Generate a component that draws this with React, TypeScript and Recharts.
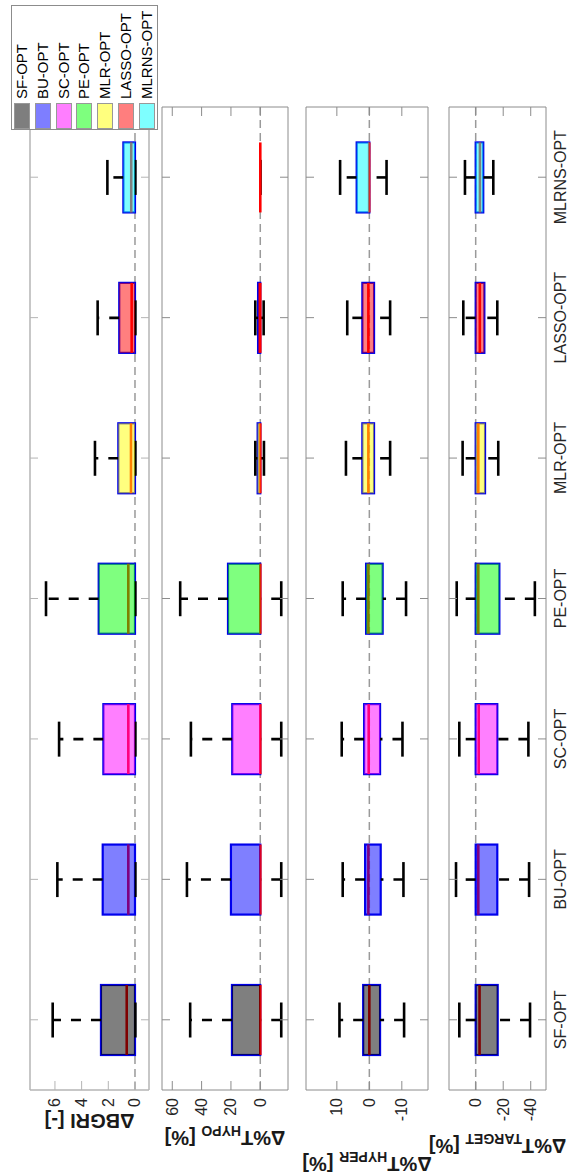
import React from 'react';
import { ComposedChart, Bar, XAxis, YAxis, ReferenceLine, Label } from 'recharts';

const categories = ['SF-OPT', 'BU-OPT', 'SC-OPT', 'PE-OPT', 'MLR-OPT', 'LASSO-OPT', 'MLRNS-OPT'];
const boxFills = ['#000000', '#0000ff', '#ff00ff', '#00ff00', '#ffff00', '#ff0000', '#00ffff'];

// ΔBGRI [-]
const bgriLow = [-0.03, -0.03, -0.03, -0.03, -0.03, -0.03, -0.03];
const bgriQ1 = [0, 0, 0, 0, 0, 0, 0];
const bgriMedian = [0.62, 0.5, 0.5, 0.5, 0.3, 0.25, 0.28];
const bgriQ3 = [2.55, 2.42, 2.37, 2.72, 1.25, 1.18, 0.87];
const bgriHigh = [6.17, 5.82, 5.69, 6.67, 3.0, 2.8, 2.07];
const bgriTicks = [0, 2, 4, 6];

// Δ%T hypo [%]
const hypoLow = [-14.3, -14.3, -14.3, -14.3, -2.5, -2.3, 0];
const hypoQ1 = [0, 0, 0, 0, 0, 0, 0];
const hypoMedian = [0, 0, 0, 0, 0, 0, 0];
const hypoQ3 = [19.3, 20, 19.1, 22, 1.8, 1.5, 0];
const hypoHigh = [47.8, 50, 47.3, 54.6, 3.4, 3.4, 0];
const hypoTicks = [0, 20, 40, 60];

// Δ%T hyper [%]
const hyperLow = [-10.7, -10.5, -10.2, -11.3, -6.4, -6.4, -5.3];
const hyperQ1 = [-3.3, -3.5, -3.3, -4.1, -1.45, -1.45, 0];
const hyperMedian = [0, 0.3, 0.2, 0.3, 0.3, 0.3, 0.05];
const hyperQ3 = [1.9, 1.3, 1.6, 1.0, 2.15, 2.15, 3.9];
const hyperHigh = [9.2, 8.2, 8.5, 8.2, 7.2, 6.8, 9.0];
const hyperTicks = [-10, 0, 10];

// Δ%T target [%]
const targetLow = [-39.5, -38.8, -38.3, -43, -16.4, -15.7, -12.8];
const targetQ1 = [-16, -15.7, -15.7, -17.2, -6.8, -6.3, -5.5];
const targetMedian = [-2.8, -1.9, -2.2, -1.9, -1.9, -3.0, -3.1];
const targetQ3 = [0, 0, 0, 0, 0, 0, 0];
const targetHigh = [11.9, 14.3, 11.9, 13.8, 9.5, 9.0, 7.8];
const targetTicks = [-40, -20, 0];

const FONT = '"Liberation Sans", Arial, sans-serif';
const W = 1176;
const H = 570;

const makeRows = (low: number[], q1: number[], med: number[], q3: number[], high: number[]) =>
  categories.map((name, i) => ({
    name,
    low: low[i],
    q1: q1[i],
    med: med[i],
    q3: q3[i],
    high: high[i],
    color: boxFills[i],
  }));

const panels = [
  {
    id: 'bgri',
    rows: makeRows(bgriLow, bgriQ1, bgriMedian, bgriQ3, bgriHigh),
    domain: [-1.05, 7.87],
    ticks: bgriTicks,
    top: 30,
    bottom: 149,
    title: { main: 'ΔBGRI [-]', sub: '', tail: '' },
    titleX: 62,
    frame: '#b4b4b4',
    frameWidth: 1.5,
    showCategories: false,
  },
  {
    id: 'hypo',
    rows: makeRows(hypoLow, hypoQ1, hypoMedian, hypoQ3, hypoHigh),
    domain: [-18.9, 67],
    ticks: hypoTicks,
    top: 162,
    bottom: 288,
    title: { main: 'Δ%T', sub: 'HYPO', tail: ' [%]' },
    titleX: 45,
    frame: '#8c8c8c',
    frameWidth: 1,
    showCategories: false,
  },
  {
    id: 'hyper',
    rows: makeRows(hyperLow, hyperQ1, hyperMedian, hyperQ3, hyperHigh),
    domain: [-18.06, 19.5],
    ticks: hyperTicks,
    top: 306,
    bottom: 428,
    title: { main: 'Δ%T', sub: 'HYPER', tail: ' [%]' },
    titleX: 19,
    frame: '#8c8c8c',
    frameWidth: 1,
    showCategories: false,
  },
  {
    id: 'target',
    rows: makeRows(targetLow, targetQ1, targetMedian, targetQ3, targetHigh),
    domain: [-51.1, 19.4],
    ticks: targetTicks,
    top: 449,
    bottom: 546,
    title: { main: 'Δ%T', sub: 'TARGET', tail: ' [%]' },
    titleX: 37,
    frame: '#8c8c8c',
    frameWidth: 1,
    showCategories: true,
  },
];

// box drawn inside the [low, high] range bar that recharts positions for us
const BoxShape = (props: any) => {
  const { x, width, payload } = props;
  const y0 = Math.min(props.y, props.y + props.height);
  const span = Math.abs(props.height);
  const { low, q1, med, q3, high, color } = payload;
  const py = (v: number) => (high === low ? y0 : y0 + (span * (high - v)) / (high - low));
  const cx = x + width / 2;
  const cap = width / 4;
  const yQ1 = py(q1);
  const yQ3 = py(q3);
  return (
    <g>
      <rect x={x} y={yQ3} width={width} height={yQ1 - yQ3} fill="none" stroke="#0000e6" strokeWidth={2.2} />
      {high > q3 && (
        <line x1={cx} x2={cx} y1={yQ3} y2={py(high)} stroke="#000" strokeWidth={2.6} strokeDasharray="10 10" />
      )}
      {q1 > low && (
        <line x1={cx} x2={cx} y1={py(low)} y2={yQ1} stroke="#000" strokeWidth={2.6} strokeDasharray="10 10" />
      )}
      <line x1={cx - cap} x2={cx + cap} y1={py(high)} y2={py(high)} stroke="#000" strokeWidth={2.6} />
      <line x1={cx - cap} x2={cx + cap} y1={py(low)} y2={py(low)} stroke="#000" strokeWidth={2.6} />
      <line x1={x} x2={x + width} y1={py(med)} y2={py(med)} stroke="#ff0000" strokeWidth={2.6} />
      <rect x={x} y={yQ3} width={width} height={yQ1 - yQ3} fill={color} fillOpacity={0.5} stroke="none" />
    </g>
  );
};

const Panel = ({ p }: { p: (typeof panels)[number] }) => {
  const leftTick = (tp: any) => (
    <g>
      <line x1={tp.x + 8} x2={tp.x + 17} y1={tp.y} y2={tp.y} stroke={p.frame} strokeWidth={1} />
      <text x={tp.x} y={tp.y} textAnchor="end" dominantBaseline="central" fontSize={16} fill="#262626" fontFamily={FONT}>
        {tp.payload.value}
      </text>
    </g>
  );
  const rightTick = (tp: any) => (
    <line x1={tp.x} x2={tp.x - 9} y1={tp.y} y2={tp.y} stroke={p.frame} strokeWidth={1} />
  );
  const bottomTick = (tp: any) => (
    <g>
      <line x1={tp.x} x2={tp.x} y1={tp.y} y2={tp.y - 8} stroke={p.frame} strokeWidth={1} />
      {p.showCategories && (
        <text x={tp.x} y={tp.y + 20} textAnchor="middle" fontSize={16} fill="#262626" fontFamily={FONT}>
          {tp.payload.value}
        </text>
      )}
    </g>
  );
  const topTick = (tp: any) => (
    <line x1={tp.x} x2={tp.x} y1={tp.y} y2={tp.y + 8} stroke={p.frame} strokeWidth={1} />
  );
  const title = (lp: any) => {
    const vb = lp.viewBox || { y: p.top, height: p.bottom - p.top };
    const cy = vb.y + vb.height / 2;
    return (
      <text
        x={p.titleX}
        y={cy}
        transform={`rotate(-90, ${p.titleX}, ${cy})`}
        textAnchor="middle"
        fontSize={20}
        fontWeight="bold"
        fill="#1a1a1a"
        fontFamily={FONT}
        style={{ whiteSpace: 'pre' }}
      >
        <tspan>{p.title.main}</tspan>
        {p.title.sub && (
          <tspan fontSize={14} dy={5}>
            {p.title.sub}
          </tspan>
        )}
        {p.title.tail && <tspan dy={-5}>{p.title.tail}</tspan>}
      </text>
    );
  };

  return (
    <div style={{ position: 'absolute', left: 0, top: 0 }}>
      <ComposedChart
        width={W}
        height={H}
        data={p.rows}
        margin={{ top: p.top - 1, bottom: H - p.bottom - 1, left: 0, right: 106 }}
      >
        <XAxis
          dataKey="name"
          height={1}
          tickSize={0}
          tickMargin={0}
          interval={0}
          tick={bottomTick}
          axisLine={{ stroke: p.frame, strokeWidth: p.frameWidth }}
        />
        <XAxis
          xAxisId="top"
          orientation="top"
          dataKey="name"
          height={1}
          tickSize={0}
          tickMargin={0}
          interval={0}
          tick={topTick}
          axisLine={{ stroke: p.frame, strokeWidth: p.frameWidth }}
        />
        <YAxis
          type="number"
          width={86}
          domain={p.domain}
          ticks={p.ticks}
          allowDataOverflow
          interval={0}
          tickSize={0}
          tickMargin={8}
          tick={leftTick}
          axisLine={{ stroke: p.frame, strokeWidth: p.frameWidth }}
        >
          <Label content={title} />
        </YAxis>
        <YAxis
          yAxisId="right"
          orientation="right"
          type="number"
          width={1}
          domain={p.domain}
          ticks={p.ticks}
          allowDataOverflow
          interval={0}
          tickSize={0}
          tickMargin={0}
          tick={rightTick}
          axisLine={{ stroke: p.frame, strokeWidth: p.frameWidth }}
        />
        <ReferenceLine y={0} stroke="#9a9a9a" strokeWidth={1.5} strokeDasharray="8 5" zIndex={-50} />
        <Bar
          dataKey={(d: any) => [d.low, d.high]}
          barSize={70}
          shape={BoxShape}
          isAnimationActive={false}
        />
      </ComposedChart>
    </div>
  );
};

const LegendBox = () => (
  <div
    style={{
      position: 'absolute',
      left: 1046,
      top: 11,
      width: 125,
      height: 147,
      border: '1px solid #8c8c8c',
      background: '#fff',
      boxSizing: 'border-box',
      fontFamily: FONT,
      fontSize: 15,
      color: '#000',
    }}
  >
    {categories.map((c, i) => (
      <div
        key={c}
        style={{ position: 'absolute', left: 0, top: 2 + i * 20.8, height: 16, display: 'flex', alignItems: 'center' }}
      >
        <div
          style={{
            width: 26,
            height: 16,
            background: boxFills[i],
            opacity: 0.5,
            boxSizing: 'border-box',
            border: '1px solid #333',
          }}
        />
        <span style={{ marginLeft: 4, lineHeight: '16px', whiteSpace: 'nowrap' }}>{c}</span>
      </div>
    ))}
  </div>
);

export default function App() {
  return (
    <div style={{ position: 'absolute', left: 0, top: 0, width: 570, height: 1176, overflow: 'hidden', background: '#fff' }}>
      <div
        style={{
          position: 'absolute',
          left: 0,
          top: 0,
          width: W,
          height: H,
          transformOrigin: '0 0',
          transform: `translateY(${W}px) rotate(-90deg)`,
        }}
      >
        {panels.map((p) => (
          <Panel key={p.id} p={p} />
        ))}
        <LegendBox />
      </div>
    </div>
  );
}
